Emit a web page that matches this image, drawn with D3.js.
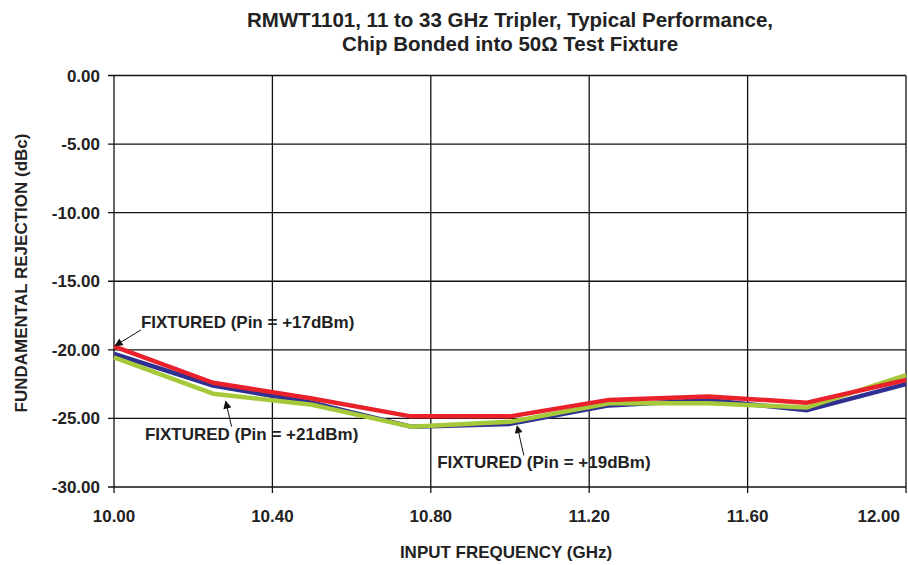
<!DOCTYPE html>
<html>
<head>
<meta charset="utf-8">
<script src="https://cdn.jsdelivr.net/npm/d3@7"></script>
<style>
  html, body { margin: 0; padding: 0; background: #fff; }
  svg { display: block; font-family: "Liberation Sans", Arial, sans-serif; font-weight: bold; }
</style>
</head>
<body>
<svg id="chart" width="908" height="565"></svg>
<script>
const freqs = [10.00, 10.25, 10.50, 10.75, 11.00, 11.25, 11.50, 11.75, 12.00];
const pin17 = [-19.75, -22.4, -23.55, -24.85, -24.85, -23.65, -23.4, -23.85, -22.2];
const pin19 = [-20.3, -22.6, -23.85, -25.6, -25.4, -24.05, -23.65, -24.4, -22.5];
const pin21 = [-20.55, -23.2, -24.0, -25.6, -25.25, -23.9, -23.9, -24.2, -21.85];
const xTicks = [10.0, 10.4, 10.8, 11.2, 11.6, 12.0];
const yTicks = [0, -5, -10, -15, -20, -25, -30];
const titleLines = ["RMWT1101, 11 to 33 GHz Tripler, Typical Performance,", "Chip Bonded into 50\u03A9 Test Fixture"];
const xTitle = "INPUT FREQUENCY (GHz)";
const yTitle = "FUNDAMENTAL REJECTION (dBc)";
const annoText = ["FIXTURED (Pin = +17dBm)", "FIXTURED (Pin = +21dBm)", "FIXTURED (Pin = +19dBm)"];
// annotation anchors in data coordinates: text start (x,y), arrow tail, arrow tip
const annoTextPos = [[10.068, -18.4], [10.078, -26.6], [10.816, -28.6]];
const annoTail = [[10.068, -18.55], [10.297, -25.6], [11.035, -27.7]];
const annoTip = [[10.003, -19.7], [10.282, -23.75], [11.018, -25.55]];

const svg = d3.select("#chart");
const x = d3.scaleLinear().domain([10, 12]).range([114, 906]);
const y = d3.scaleLinear().domain([-30, 0]).range([487, 75.5]);

const defs = svg.append("defs");
defs.append("marker").attr("id", "arrow").attr("viewBox", "0 0 10 10")
  .attr("refX", 9).attr("refY", 5).attr("markerWidth", 11).attr("markerHeight", 8)
  .attr("markerUnits", "userSpaceOnUse").attr("orient", "auto")
  .append("path").attr("d", "M0,0 L10,5 L0,10 z").attr("fill", "#111");

// grid
svg.append("g").selectAll("line").data(yTicks).join("line")
  .attr("x1", x(10) - 6).attr("x2", x(12)).attr("y1", d => y(d)).attr("y2", d => y(d))
  .attr("stroke", "#111").attr("stroke-width", 1.3);
svg.append("g").selectAll("line").data(xTicks).join("line")
  .attr("y1", y(0)).attr("y2", y(-30) + 6).attr("x1", d => x(d)).attr("x2", d => x(d))
  .attr("stroke", "#111").attr("stroke-width", 1.3);

// tick labels
svg.append("g").selectAll("text").data(yTicks).join("text")
  .attr("x", 100).attr("y", d => y(d) + 6).attr("text-anchor", "end")
  .attr("font-size", 17).attr("fill", "#222").text(d => d.toFixed(2));
svg.append("g").selectAll("text").data(xTicks).join("text")
  .attr("x", (d, i) => i === xTicks.length - 1 ? x(d) - 6 : x(d)).attr("y", 522)
  .attr("text-anchor", (d, i) => i === xTicks.length - 1 ? "end" : "middle")
  .attr("font-size", 17).attr("fill", "#222").text(d => d.toFixed(2));

// axis titles
svg.append("text").attr("x", 506).attr("y", 558).attr("text-anchor", "middle")
  .attr("font-size", 17).attr("fill", "#222").text(xTitle);
svg.append("text").attr("transform", "translate(27,273) rotate(-90)").attr("text-anchor", "middle")
  .attr("font-size", 17).attr("fill", "#222").text(yTitle);

// title
svg.append("g").selectAll("text").data(titleLines).join("text")
  .attr("x", 510).attr("y", (d, i) => 27 + i * 24).attr("text-anchor", "middle")
  .attr("font-size", 20.5).attr("fill", "#222").text(d => d);

// lines
const line = d3.line().x(d => x(d[0])).y(d => y(d[1]));
const series = [
  { vals: pin19, color: "#2e3192" },
  { vals: pin21, color: "#a6c93a" },
  { vals: pin17, color: "#e8212b" }
];
svg.append("g").selectAll("path").data(series).join("path")
  .attr("d", s => line(freqs.map((f, i) => [f, s.vals[i]])))
  .attr("fill", "none").attr("stroke", s => s.color).attr("stroke-width", 4.5)
  .attr("stroke-linejoin", "round");

// annotations
svg.append("g").selectAll("text").data(annoText).join("text")
  .attr("x", (d, i) => x(annoTextPos[i][0])).attr("y", (d, i) => y(annoTextPos[i][1]))
  .attr("font-size", 17).attr("fill", "#222").text(d => d);
svg.append("g").selectAll("line").data(annoText).join("line")
  .attr("x1", (d, i) => x(annoTail[i][0])).attr("y1", (d, i) => y(annoTail[i][1]))
  .attr("x2", (d, i) => x(annoTip[i][0])).attr("y2", (d, i) => y(annoTip[i][1]))
  .attr("stroke", "#111").attr("stroke-width", 1).attr("marker-end", "url(#arrow)");
</script>
</body>
</html>
